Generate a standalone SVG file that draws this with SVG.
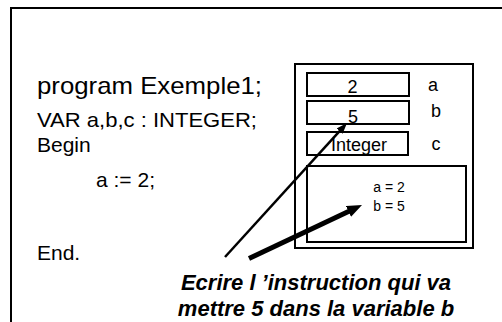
<svg xmlns="http://www.w3.org/2000/svg" width="502" height="322" viewBox="0 0 502 322">
  <defs>
    <style>
      .t { font-family: "Liberation Sans", Arial, sans-serif; fill: #000; }
      .box { fill: #fff; stroke: #000; stroke-width: 2; }
      .conn { fill: none; stroke: #000; }
      .note { font-family: "Liberation Sans", Arial, sans-serif; font-weight: bold; font-style: italic; font-size: 22px; fill: #000; text-anchor: middle; }
    </style>
    <marker id="headThin" viewBox="0 0 11 8" markerUnits="userSpaceOnUse" markerWidth="11" markerHeight="8" refX="5" refY="4" orient="auto">
      <path d="M0,0 L11,4 L0,8 z" fill="#000"/>
    </marker>
    <marker id="headThick" viewBox="0 0 15 12" markerUnits="userSpaceOnUse" markerWidth="15" markerHeight="12" refX="7" refY="6" orient="auto">
      <path d="M0,0 L15,6 L0,12 z" fill="#000"/>
    </marker>
  </defs>

  <rect width="502" height="322" fill="#fff"/>
  <g id="frame">
    <path d="M11,323 V8 H503" fill="none" stroke="#000" stroke-width="2"/>
  </g>

  <g id="code">
    <text class="t" x="37" y="94" font-size="24" textLength="225" lengthAdjust="spacingAndGlyphs">program Exemple1;</text>
    <text class="t" x="37" y="127" font-size="21" textLength="220" lengthAdjust="spacingAndGlyphs">VAR a,b,c : INTEGER;</text>
    <text class="t" x="37" y="152" font-size="21">Begin</text>
    <text class="t" x="96" y="187" font-size="21">a := 2;</text>
    <text class="t" x="37" y="260" font-size="21">End.</text>
  </g>

  <g id="memory">
    <rect class="box" x="295" y="64" width="178" height="184"/>
  </g>
  <g id="var-a">
    <rect class="box" x="307" y="73" width="102" height="23"/>
    <text class="t" x="352.5" y="93" font-size="18" text-anchor="middle">2</text>
    <text class="t" x="433" y="91" font-size="18" text-anchor="middle">a</text>
  </g>
  <g id="var-b">
    <rect class="box" x="307" y="101" width="102" height="23"/>
    <text class="t" x="353" y="123" font-size="18" text-anchor="middle">5</text>
    <text class="t" x="436" y="117" font-size="18" text-anchor="middle">b</text>
  </g>
  <g id="var-c">
    <rect class="box" x="307" y="132" width="101" height="23"/>
    <text class="t" x="359" y="151" font-size="18" text-anchor="middle">Integer</text>
    <text class="t" x="436" y="150" font-size="18" text-anchor="middle">c</text>
  </g>
  <g id="display">
    <rect class="box" x="307" y="166" width="159" height="76"/>
    <text class="t" x="389" y="192" font-size="14" text-anchor="middle">a = 2</text>
    <text class="t" x="389" y="211" font-size="14" text-anchor="middle">b = 5</text>
  </g>

  <g id="connectors">
    <path class="conn" d="M225,257 L343,127.4" stroke-width="2.5" marker-end="url(#headThin)"/>
    <path class="conn" d="M249,258.5 L354.8,208.4" stroke-width="5" marker-end="url(#headThick)"/>
  </g>

  <g id="instruction">
    <text class="note" x="316" y="290">Ecrire l ’instruction qui va</text>
    <text class="note" x="316" y="316">mettre 5 dans la variable b</text>
  </g>
</svg>
